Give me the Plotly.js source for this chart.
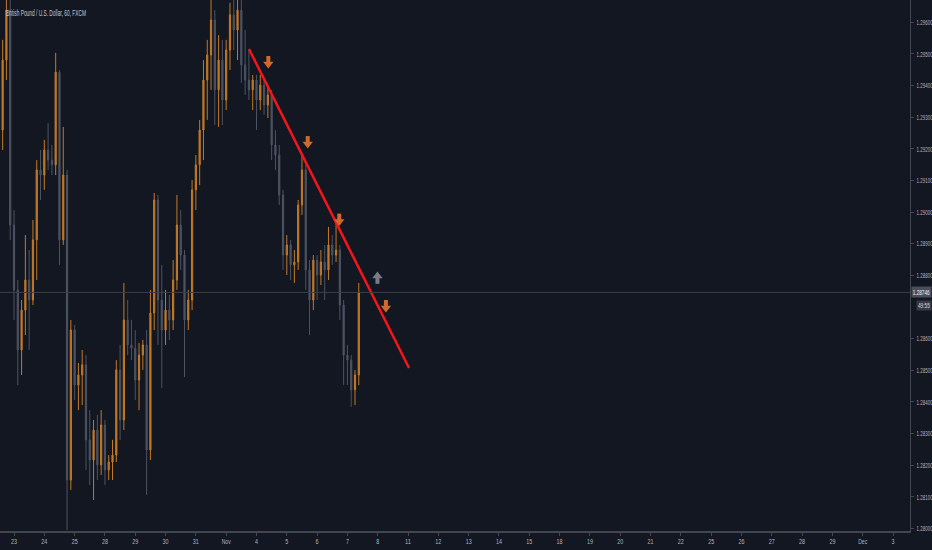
<!DOCTYPE html>
<html>
<head>
<meta charset="utf-8">
<script src="https://cdn.plot.ly/plotly-3.0.1.min.js"></script>
<style>
  html,body{margin:0;padding:0;background:#131722;}
  #chart{width:932px;height:550px;}
</style>
</head>
<body>
<div id="chart"></div>
<script>
"use strict"

// GBPUSD, FXCM, shown here as 3 hour bars (8 per trading day), first bar half a day before 23 Oct
const BAR_START = -0.5
const BAR_STEP = 1/8

const open = [
  1.29038,1.29259,1.29480,1.29638,1.28959,1.28754,1.28564,1.28690,1.28785,1.28722,
  1.28912,1.29133,1.29117,1.29196,1.29164,1.29149,1.29442,1.28912,1.29117,1.28153,
  1.28627,1.28453,1.28485,1.28517,1.28280,1.28216,1.28311,1.28201,1.28327,1.28185,
  1.28210,1.28232,1.28501,1.28343,1.28659,1.28580,1.28570,1.28469,1.28548,1.28580,
  1.28248,1.28681,1.29038,1.28722,1.28627,1.28690,1.28659,1.28785,1.28959,1.28864,
  1.28659,1.28722,1.29070,1.29149,1.29259,1.29417,1.29496,1.29607,1.29386,1.29480,
  1.29354,1.29512,1.29623,1.29575,1.29638,1.29465,1.29417,1.29386,1.29417,1.29354,
  1.29401,1.29338,1.29370,1.29212,1.29180,1.29054,1.28864,1.28896,1.28833,1.28842,
  1.29022,1.29133,1.28817,1.28722,1.28848,1.28801,1.28842,1.28817,1.28896,1.28864,
  1.28880,1.28706,1.28548,1.28532,1.28438,1.28485
]
const high = [
  1.29480,1.29544,1.29686,1.29670,1.29006,1.28785,1.28722,1.28927,1.28880,1.28975,
  1.29164,1.29196,1.29228,1.29281,1.29212,1.29503,1.29449,1.29269,1.29133,1.28659,
  1.28643,1.28523,1.28564,1.28548,1.28374,1.28343,1.28359,1.28374,1.28343,1.28232,
  1.28280,1.28532,1.28580,1.28776,1.28722,1.28659,1.28627,1.28586,1.28596,1.28627,
  1.28754,1.29060,1.29054,1.28833,1.28754,1.28738,1.28848,1.29054,1.29006,1.28880,
  1.28754,1.29101,1.29180,1.29291,1.29480,1.29544,1.29670,1.29638,1.29559,1.29544,
  1.29544,1.29661,1.29670,1.29686,1.29670,1.29575,1.29512,1.29433,1.29433,1.29433,
  1.29417,1.29401,1.29386,1.29259,1.29212,1.29070,1.28927,1.28912,1.28880,1.29038,
  1.29187,1.29149,1.28848,1.28864,1.28864,1.28880,1.28896,1.28953,1.28927,1.28965,
  1.28896,1.28722,1.28580,1.28548,1.28501,1.28776
]
const low = [
  1.28943,1.29196,1.29417,1.28912,1.28659,1.28453,1.28485,1.28611,1.28564,1.28706,
  1.28785,1.29038,1.29070,1.29133,1.29117,1.29117,1.28833,1.28896,1.27995,1.28122,
  1.28406,1.28374,1.28390,1.28185,1.28137,1.28090,1.28153,1.28169,1.28137,1.28153,
  1.28153,1.28210,1.28280,1.28311,1.28548,1.28532,1.28406,1.28374,1.28501,1.28106,
  1.28216,1.28627,1.28580,1.28444,1.28580,1.28596,1.28627,1.28754,1.28817,1.28479,
  1.28627,1.28690,1.29006,1.29085,1.29164,1.29291,1.29386,1.29275,1.29269,1.29275,
  1.29322,1.29449,1.29512,1.29480,1.29408,1.29370,1.29354,1.29322,1.29259,1.29322,
  1.29307,1.29297,1.29164,1.29133,1.29022,1.28817,1.28801,1.28785,1.28776,1.28817,
  1.28991,1.28754,1.28611,1.28690,1.28722,1.28769,1.28722,1.28785,1.28833,1.28842,
  1.28659,1.28453,1.28453,1.28384,1.28390,1.28453
]
const close = [
  1.29259,1.29480,1.29638,1.28959,1.28754,1.28564,1.28690,1.28785,1.28722,1.28912,
  1.29133,1.29117,1.29196,1.29164,1.29149,1.29442,1.28912,1.29117,1.28153,1.28627,
  1.28453,1.28485,1.28517,1.28280,1.28216,1.28311,1.28201,1.28327,1.28185,1.28210,
  1.28232,1.28501,1.28343,1.28659,1.28580,1.28570,1.28469,1.28548,1.28580,1.28248,
  1.28681,1.29038,1.28722,1.28627,1.28690,1.28659,1.28785,1.28959,1.28864,1.28659,
  1.28722,1.29070,1.29149,1.29259,1.29417,1.29496,1.29607,1.29386,1.29480,1.29354,
  1.29512,1.29623,1.29575,1.29638,1.29465,1.29417,1.29386,1.29417,1.29354,1.29401,
  1.29338,1.29370,1.29212,1.29180,1.29054,1.28864,1.28896,1.28833,1.28842,1.29022,
  1.29133,1.28817,1.28722,1.28848,1.28801,1.28842,1.28817,1.28896,1.28864,1.28880,
  1.28706,1.28548,1.28532,1.28438,1.28485,1.28746
]

// trading days, 0 = 23 Oct
const dayTicks = [0,1,2,3,4,5,6,7,8,9,10,11,12,13,14,15,16,17,18,19,20,21,22,23,24,25,26,27,28,29]
const dayLabels = ["23","24","25","28","29","30","31","Nov","4","5","6","7","8","11","12","13","14","15","18","19","20","21","22","25","26","27","28","29","Dec","3"]
// 1.28700 sits under the last price label, so it is left out
const priceTicks = [1.280,1.281,1.282,1.283,1.284,1.285,1.286,1.288,1.289,1.290,1.291,1.292,1.293,1.294,1.295,1.296]

// drawn trend line
const trendX = [7.753, 13.032]
const trendY = [1.29515, 1.28507]

// strategy signals
const sellX = [8.39, 9.69, 10.73, 12.27]
const sellY = [1.29468, 1.29215, 1.28970, 1.28697]
const buyX = [11.99]
const buyY = [1.28798]

const lastPrice = 1.28746
const countdown = "49:55"
const title = "British Pound / U.S. Dollar, 60, FXCM"

const STEM = 0.00025
const FONT = "'Liberation Sans',Arial,sans-serif"
const axisFont = {family:FONT, size:8, color:"#b2b5be"}

const barX = open.map((v,i)=>BAR_START + i*BAR_STEP)

const candles = {
  type:"candlestick",
  x:barX, open:open, high:high, low:low, close:close,
  increasing:{line:{color:"#c27a25", width:1}, fillcolor:"#c27a25"},
  decreasing:{line:{color:"#4c5363", width:1}, fillcolor:"#4c5363"},
  whiskerwidth:0,
  hoverinfo:"skip",
}
const trend = {
  type:"scatter", mode:"lines",
  x:trendX, y:trendY,
  line:{color:"#f5151a", width:2.5},
  hoverinfo:"skip",
}
const sells = {
  type:"scatter", mode:"markers",
  x:sellX, y:sellY,
  marker:{symbol:"triangle-down", size:9, color:"#d0692a"},
  error_y:{type:"data", symmetric:false, array:sellX.map(v=>STEM), arrayminus:sellX.map(v=>0), thickness:4, width:0, color:"#d0692a"},
  hoverinfo:"skip",
}
const buys = {
  type:"scatter", mode:"markers",
  x:buyX, y:buyY,
  marker:{symbol:"triangle-up", size:9, color:"#787c88"},
  error_y:{type:"data", symmetric:false, array:buyX.map(v=>0), arrayminus:buyX.map(v=>STEM), thickness:4, width:0, color:"#787c88"},
  hoverinfo:"skip",
}

const layout = {
  width:932, height:550,
  paper_bgcolor:"#131722", plot_bgcolor:"#131722",
  margin:{l:0, r:22, t:0, b:19, pad:0},
  showlegend:false,
  boxgap:0.55,
  xaxis:{
    range:[-0.462, 29.56],
    tickmode:"array", tickvals:dayTicks, ticktext:dayLabels,
    tickfont:{family:FONT, size:7, color:"#b2b5be"},
    showgrid:false, zeroline:false,
    showline:true, linecolor:"#434651", linewidth:2,
    ticks:"outside", ticklen:3, tickcolor:"#434651",
    rangeslider:{visible:false},
    fixedrange:true,
  },
  yaxis:{
    side:"right",
    range:[1.27992, 1.29670],
    tickmode:"array", tickvals:priceTicks, ticktext:priceTicks.map(v=>v.toFixed(5)),
    tickfont:axisFont,
    ticklabelstandoff:1,
    showgrid:false, zeroline:false,
    showline:true, linecolor:"#434651", linewidth:1,
    ticks:"outside", ticklen:3, tickcolor:"#434651",
    fixedrange:true,
  },
  shapes:[
    {type:"line", xref:"paper", x0:0, x1:1, yref:"y", y0:lastPrice, y1:lastPrice, line:{color:"#3b3f4a", width:1}},
  ],
  annotations:[
    {text:title, xref:"paper", yref:"paper", x:0, y:1, xanchor:"left", yanchor:"top", xshift:3, yshift:-5,
     width:82, height:11, showarrow:false, font:{family:FONT, size:9, color:"#c5c8d0"}},
    {text:lastPrice.toFixed(5), xref:"paper", yref:"y", x:1, y:lastPrice, xanchor:"left", yanchor:"middle", xshift:1,
     width:19, height:10, showarrow:false, bgcolor:"#4a4e5a", borderpad:0, font:{family:FONT, size:8, color:"#f0f3fa"}},
    {text:countdown, xref:"paper", yref:"y", x:1, y:lastPrice, xanchor:"left", yanchor:"middle", xshift:6, yshift:-13,
     width:14, height:9, showarrow:false, bgcolor:"#363a45", borderpad:0, font:{family:FONT, size:7, color:"#d1d4dc"}},
  ],
}

// the source draws its labels in a narrow face, squeeze the svg text to the same widths
const squeeze = (el, w) => {
  el.setAttribute("textLength", w)
  el.setAttribute("lengthAdjust", "spacingAndGlyphs")
}

Plotly.newPlot("chart", [candles, trend, sells, buys], layout, {displayModeBar:false, staticPlot:true}).then(gd=>{
  gd.querySelectorAll(".ytick text").forEach(t=>squeeze(t, 16))
  gd.querySelectorAll(".xtick text").forEach(t=>squeeze(t, t.textContent.length>2 ? 9 : t.textContent.length*3))
  const ann = gd.querySelectorAll(".annotation-text")
  squeeze(ann[0], 80)
  squeeze(ann[1], 17)
  squeeze(ann[2], 12)
})
</script>
</body>
</html>
